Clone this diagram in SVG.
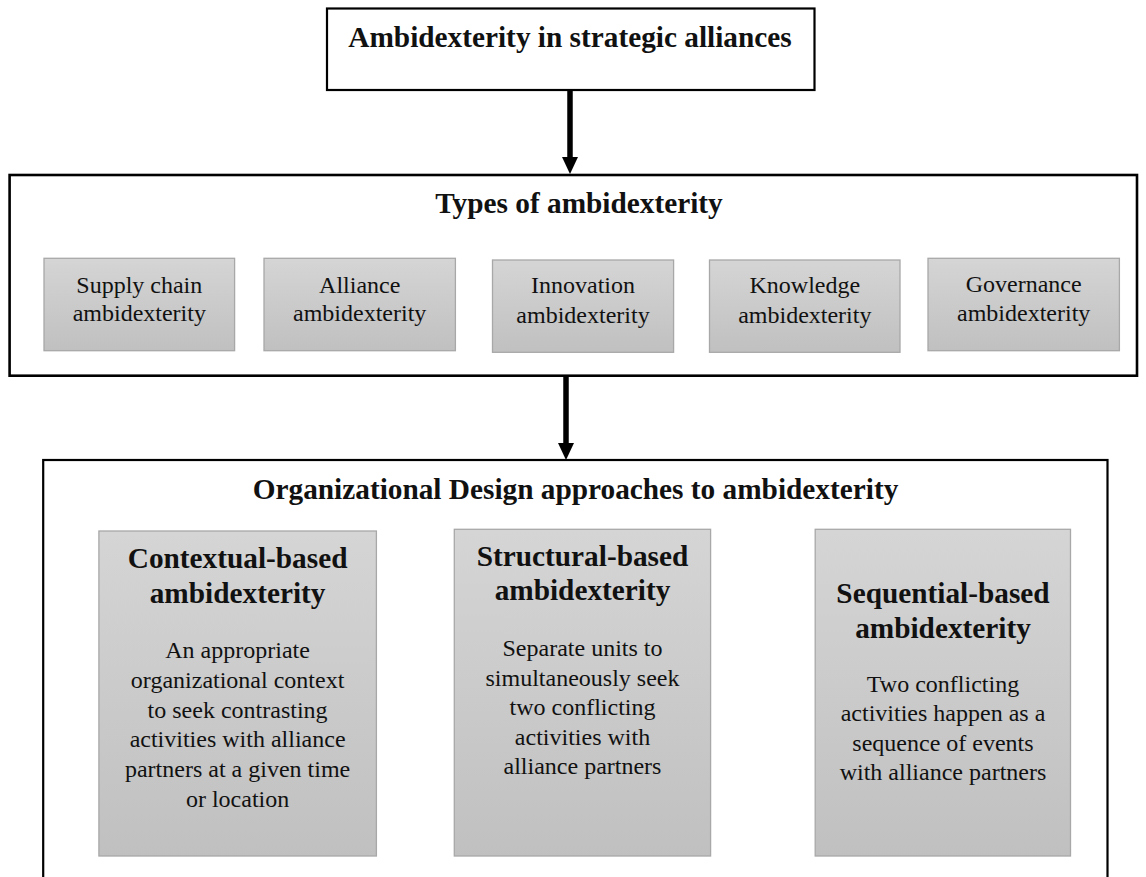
<svg xmlns="http://www.w3.org/2000/svg" width="1146" height="877" viewBox="0 0 1146 877">
<style>
text{font-family:"Liberation Serif","Times New Roman",serif;fill:#111;text-anchor:middle}
.h{font-size:29.3px;font-weight:bold}
.b{font-size:24px}
.frame{fill:#fff;stroke:#000;stroke-width:2.2}
.gray{fill:url(#g);stroke:#a8a8a8;stroke-width:1.3}
.conn{stroke:#000;stroke-width:5.5;fill:none}
</style>
<defs>
<linearGradient id="g" x1="0" y1="0" x2="0" y2="1">
<stop offset="0" stop-color="#d5d5d5"/>
<stop offset="1" stop-color="#c0c0c0"/>
</linearGradient>
<marker id="ah" markerUnits="userSpaceOnUse" markerWidth="18" markerHeight="16" viewBox="0 0 18 16" refX="0" refY="8" orient="auto">
<path d="M0,0 L17,8 L0,16 z" fill="#000"/>
</marker>
</defs>
<rect width="1146" height="877" fill="#fff"/>

<g id="top">
<rect class="frame" x="327" y="8.5" width="487.5" height="81.5"/>
<text class="h" x="570" y="46.7">Ambidexterity in strategic alliances</text>
</g>

<g id="types">
<rect class="frame" x="9.6" y="175" width="1127.4" height="200.7" style="stroke-width:2.6"/>
<text class="h" x="579" y="213.3">Types of ambidexterity</text>
</g>
<g id="t1">
<rect class="gray" x="44" y="258.3" width="190.6" height="92.4"/>
<text class="b" x="139.3" y="292.7">Supply chain</text>
<text class="b" x="139.3" y="321">ambidexterity</text>
</g>
<g id="t2">
<rect class="gray" x="264" y="258.3" width="191.4" height="92.4"/>
<text class="b" x="359.7" y="292.7">Alliance</text>
<text class="b" x="359.7" y="321">ambidexterity</text>
</g>
<g id="t3">
<rect class="gray" x="492.5" y="260" width="181.1" height="92.3"/>
<text class="b" x="583" y="293.3">Innovation</text>
<text class="b" x="583" y="322.7">ambidexterity</text>
</g>
<g id="t4">
<rect class="gray" x="709.5" y="260" width="190.5" height="92.3"/>
<text class="b" x="804.8" y="293.3">Knowledge</text>
<text class="b" x="804.8" y="322.7">ambidexterity</text>
</g>
<g id="t5">
<rect class="gray" x="928" y="258.3" width="191.4" height="92.4"/>
<text class="b" x="1023.7" y="291.7">Governance</text>
<text class="b" x="1023.7" y="321">ambidexterity</text>
</g>

<g id="org">
<rect class="frame" x="43.2" y="460" width="1064.3" height="430"/>
<text class="h" x="575.5" y="499">Organizational Design approaches to ambidexterity</text>
</g>
<g id="c1">
<rect class="gray" x="98.9" y="531" width="277.5" height="325"/>
<text class="h" x="237.6" y="568.3">Contextual-based</text>
<text class="h" x="237.6" y="603.3">ambidexterity</text>
<text class="b" x="237.6" y="658.3">An appropriate</text>
<text class="b" x="237.6" y="688">organizational context</text>
<text class="b" x="237.6" y="717.7">to seek contrasting</text>
<text class="b" x="237.6" y="747.4">activities with alliance</text>
<text class="b" x="237.6" y="777.1">partners at a given time</text>
<text class="b" x="237.6" y="806.8">or location</text>
</g>
<g id="c2">
<rect class="gray" x="454.3" y="529.3" width="256.3" height="326.7"/>
<text class="h" x="582.5" y="565.5">Structural-based</text>
<text class="h" x="582.5" y="600.3">ambidexterity</text>
<text class="b" x="582.5" y="656">Separate units to</text>
<text class="b" x="582.5" y="685.5">simultaneously seek</text>
<text class="b" x="582.5" y="715">two conflicting</text>
<text class="b" x="582.5" y="744.5">activities with</text>
<text class="b" x="582.5" y="774">alliance partners</text>
</g>
<g id="c3">
<rect class="gray" x="815.2" y="529.3" width="255.3" height="326.7"/>
<text class="h" x="943" y="602.5">Sequential-based</text>
<text class="h" x="943" y="637.5">ambidexterity</text>
<text class="b" x="943" y="691.5">Two conflicting</text>
<text class="b" x="943" y="721">activities happen as a</text>
<text class="b" x="943" y="750.5">sequence of events</text>
<text class="b" x="943" y="780">with alliance partners</text>
</g>

<g id="connectors">
<line class="conn" x1="570" y1="90" x2="570" y2="157" marker-end="url(#ah)"/>
<line class="conn" x1="566" y1="376" x2="566" y2="443" marker-end="url(#ah)"/>
</g>
</svg>
